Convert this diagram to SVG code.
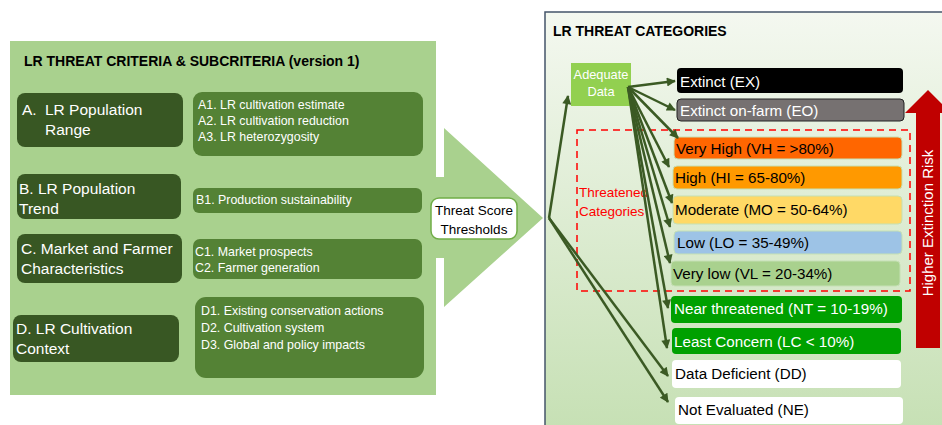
<svg xmlns="http://www.w3.org/2000/svg" width="942" height="425" viewBox="0 0 942 425">
<style>
text{font-family:"Liberation Sans",Arial,sans-serif}
.title{font-size:14px;font-weight:bold;fill:#000}
.main{fill:#385723}
.sub{fill:#548235}
.mt{font-size:15.5px;fill:#fff}
.st{font-size:12.4px;fill:#fff}
.cat{font-size:15.2px}
.w{fill:#fff}
.k{fill:#000}
.conn line,.conn polyline{stroke:#3b5a24;stroke-width:2.5;fill:none;marker-end:url(#ah)}
</style>
<defs>
<marker id="ah" viewBox="0 0 10 10" refX="9" refY="5" markerWidth="11" markerHeight="9" markerUnits="userSpaceOnUse" orient="auto">
<path d="M0,0 L10,5 L0,10 z" fill="#3b5a24"/>
</marker>
<linearGradient id="bg" x1="0" y1="0" x2="0" y2="1">
<stop offset="0" stop-color="#f4f8f0"/>
<stop offset="1" stop-color="#c6e0b4"/>
</linearGradient>
</defs>
<rect width="942" height="425" fill="#fff"/>

<g id="criteria-panel">
<rect x="10" y="41" width="426" height="354" fill="#a9d18e"/>
<polygon points="436,177 444,177 444,128 543,218 444,307 444,258 436,258" fill="#a9d18e"/>
<text class="title" x="24" y="66">LR THREAT CRITERIA &amp; SUBCRITERIA (version 1)</text>
</g>

<g id="node-A">
<rect class="main" x="17" y="93" width="166" height="54" rx="8"/>
<text class="mt" x="22" y="115">A.</text>
<text class="mt" x="45" y="115">LR Population</text>
<text class="mt" x="45" y="135">Range</text>
</g>
<g id="sub-A">
<rect class="sub" x="193" y="92" width="230" height="64" rx="9"/>
<text class="st" x="198" y="109">A1. LR cultivation estimate</text>
<text class="st" x="198" y="125">A2. LR cultivation reduction</text>
<text class="st" x="198" y="141">A3. LR heterozygosity</text>
</g>

<g id="node-B">
<rect class="main" x="17" y="174" width="164" height="45" rx="8"/>
<text class="mt" x="19" y="194">B. LR Population</text>
<text class="mt" x="19" y="214">Trend</text>
</g>
<g id="sub-B">
<rect class="sub" x="193" y="188" width="229" height="25" rx="6"/>
<text class="st" x="196" y="204">B1. Production sustainability</text>
</g>

<g id="node-C">
<rect class="main" x="17" y="234" width="165" height="49" rx="8"/>
<text class="mt" x="21" y="254">C. Market and Farmer</text>
<text class="mt" x="21" y="274">Characteristics</text>
</g>
<g id="sub-C">
<rect class="sub" x="193" y="239" width="229" height="40" rx="7"/>
<text class="st" x="195" y="256">C1. Market prospects</text>
<text class="st" x="195" y="272">C2. Farmer generation</text>
</g>

<g id="node-D">
<rect class="main" x="13" y="315" width="166" height="47" rx="8"/>
<text class="mt" x="16" y="334">D. LR Cultivation</text>
<text class="mt" x="16" y="354">Context</text>
</g>
<g id="sub-D">
<rect class="sub" x="195" y="297" width="229" height="81" rx="11"/>
<text class="st" x="201" y="315">D1. Existing conservation actions</text>
<text class="st" x="201" y="332">D2. Cultivation system</text>
<text class="st" x="201" y="349">D3. Global and policy impacts</text>
</g>

<g id="threat-score">
<rect x="431" y="198" width="86" height="41" rx="8" fill="#fff" stroke="#70ad47" stroke-width="1.5"/>
<text x="474" y="215" font-size="13.5" text-anchor="middle" fill="#000">Threat Score</text>
<text x="474" y="234" font-size="13.5" text-anchor="middle" fill="#000">Thresholds</text>
</g>

<g id="categories-panel">
<rect x="545" y="12" width="402" height="420" fill="url(#bg)" stroke="#44546a" stroke-width="1.5"/>
<text class="title" x="553" y="36">LR THREAT CATEGORIES</text>
</g>

<g id="adequate-data">
<rect x="571" y="63" width="60" height="43" fill="#92d050"/>
<text x="601" y="79" font-size="12.8" text-anchor="middle" class="w">Adequate</text>
<text x="601" y="96" font-size="12.8" text-anchor="middle" class="w">Data</text>
</g>

<g id="threatened-group">
<rect x="577" y="130" width="333" height="161" fill="none" stroke="#ff0000" stroke-width="1.5" stroke-dasharray="7,5"/>
<text x="579" y="197" font-size="13.5" fill="#ff0000">Threatened</text>
<text x="579" y="216" font-size="13.5" fill="#ff0000">Categories</text>
</g>

<g id="cat-EX">
<rect x="677" y="68" width="226" height="25" rx="4" fill="#000"/>
<text class="cat w" x="680" y="87">Extinct (EX)</text>
</g>
<g id="cat-EO">
<rect x="677" y="99" width="227" height="22" rx="4" fill="#767171" stroke="#222" stroke-width="1"/>
<text class="cat w" x="680" y="116">Extinct on-farm (EO)</text>
</g>
<g id="cat-VH">
<rect x="674" y="137" width="228" height="22" rx="4" fill="#ff6600" stroke="#c5e0b4" stroke-width="1"/>
<text class="cat k" x="676" y="154">Very High (VH = &gt;80%)</text>
</g>
<g id="cat-HI">
<rect x="673" y="166" width="229" height="23" rx="4" fill="#ff9900" stroke="#c5e0b4" stroke-width="1"/>
<text class="cat k" x="675" y="183">High (HI = 65-80%)</text>
</g>
<g id="cat-MO">
<rect x="673" y="196" width="229" height="28" rx="4" fill="#ffd966" stroke="#c5e0b4" stroke-width="1"/>
<text class="cat k" x="675" y="215">Moderate (MO = 50-64%)</text>
</g>
<g id="cat-LO">
<rect x="674" y="231" width="228" height="23" rx="4" fill="#9dc3e6" stroke="#c5e0b4" stroke-width="1"/>
<text class="cat k" x="677" y="248">Low (LO = 35-49%)</text>
</g>
<g id="cat-VL">
<rect x="671" y="261" width="229" height="25" rx="4" fill="#a9d18e" stroke="#c5e0b4" stroke-width="1"/>
<text class="cat k" x="673" y="279">Very low (VL = 20-34%)</text>
</g>
<g id="cat-NT">
<rect x="671" y="296" width="231" height="27" rx="4" fill="#00a000"/>
<text class="cat w" x="674" y="314">Near threatened (NT = 10-19%)</text>
</g>
<g id="cat-LC">
<rect x="672" y="328" width="229" height="26" rx="4" fill="#00a000"/>
<text class="cat w" x="674" y="347">Least Concern (LC &lt; 10%)</text>
</g>
<g id="cat-DD">
<rect x="672" y="360" width="229" height="28" rx="4" fill="#fff"/>
<text class="cat k" x="675" y="379">Data Deficient (DD)</text>
</g>
<g id="cat-NE">
<rect x="675" y="397" width="228" height="27" rx="4" fill="#fff"/>
<text class="cat k" x="678" y="415">Not Evaluated (NE)</text>
</g>

<g id="risk-arrow">
<polygon points="928,90 951,113 940,113 940,348 916,348 916,113 905,113" fill="#c00000"/>
<text x="933" y="223" font-size="15" class="w" text-anchor="middle" transform="rotate(-90 933 223)">Higher Extinction Risk</text>
</g>

<g id="connectors" class="conn">
<line x1="549" y1="218" x2="568" y2="96"/>
<polyline points="549,218 668,376"/>
<polyline points="549,218 668,402"/>
<line x1="628" y1="87" x2="675" y2="81"/>
<line x1="628" y1="87" x2="675" y2="110"/>
<line x1="628" y1="87" x2="678" y2="138"/>
<line x1="628" y1="87" x2="669" y2="167"/>
<line x1="628" y1="87" x2="672" y2="203"/>
<line x1="628" y1="87" x2="670" y2="227"/>
<line x1="628" y1="87" x2="670" y2="263"/>
<line x1="628" y1="87" x2="668" y2="308"/>
<line x1="628" y1="87" x2="667" y2="348"/>
</g>
</svg>
